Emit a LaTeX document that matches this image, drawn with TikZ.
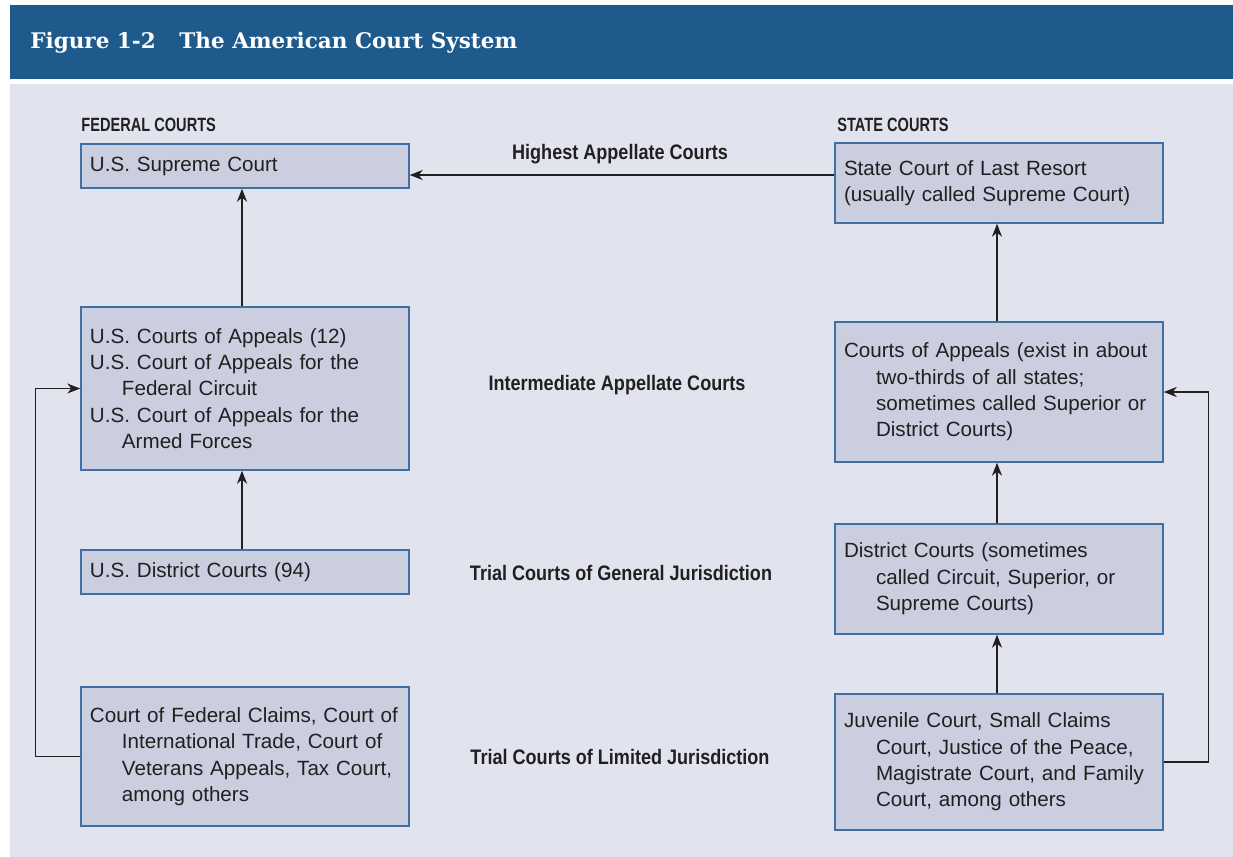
\documentclass[tikz,border=0pt]{standalone}
\usepackage{fontspec}
\setmainfont{Liberation Sans}
\newfontfamily\titlefont{DejaVu Serif}
\newfontfamily\sidefont{Liberation Sans}[FakeStretch=0.76]
\newfontfamily\levelfont{Liberation Sans}[FakeStretch=0.86]
\usetikzlibrary{arrows.meta}

\definecolor{courtBand}{HTML}{1F5A8D}
\definecolor{courtPanel}{HTML}{E1E4EE}
\definecolor{courtFill}{HTML}{CACEDF}
\definecolor{courtEdge}{HTML}{3F6FA3}
\definecolor{courtInk}{HTML}{231F20}

\newcommand{\subln}{\hspace*{16pt}}

\begin{document}
\begin{tikzpicture}[x=0.5pt,y=-0.5pt,font=\fontsize{10.3}{13.2}\selectfont,
  court/.style={draw=courtEdge,fill=courtFill,line width=0.7pt,text=courtInk,
    text width=155pt,align=left,inner xsep=4.5pt,inner ysep=0pt},
  level/.style={font=\levelfont\bfseries\fontsize{10.5}{12}\selectfont,
    text=courtInk,anchor=base,inner sep=0pt},
  side/.style={font=\sidefont\bfseries\fontsize{9.6}{11}\selectfont,
    text=courtInk,anchor=base west,inner sep=0pt},
  link/.style={-{Stealth[length=6.5pt,width=5pt,inset=2pt]},line width=0.7pt,draw=courtInk}]
  \useasboundingbox (0,0) rectangle (1233,857);
  % band and panel
  \fill[courtBand] (10,5) rectangle (1233,79);
  \fill[courtPanel] (10,84) rectangle (1233,857);
  \node[anchor=base west,inner sep=0pt,text=white,
    font=\titlefont\bfseries\fontsize{10.75}{12}\selectfont] (title) at (30,48)
    {Figure 1-2\hspace{1.1em}The American Court System};
  % column heads
  \node[side] (fedhead) at (81,131) {FEDERAL COURTS};
  \node[side] (statehead) at (837,131) {STATE COURTS};
  % federal courts
  \node[court,minimum height=22pt] (sup) at (245,166) {U.S. Supreme Court};
  \node[court,minimum height=81.5pt] (fapp) at (245,388.5) {U.S. Courts of Appeals (12)\\
    U.S. Court of Appeals for the\\ \subln Federal Circuit\\
    U.S. Court of Appeals for the\\ \subln Armed Forces};
  \node[court,minimum height=22pt] (fdist) at (245,572) {U.S. District Courts (94)};
  \node[court,minimum height=69.5pt] (fclaims) at (245,756.5) {Court of Federal Claims, Court of\\
    \subln International Trade, Court of\\ \subln Veterans Appeals, Tax Court,\\
    \subln among others};
  % state courts
  \node[court,minimum height=40pt] (slast) at (999,183) {State Court of Last Resort\\
    (usually called Supreme Court)};
  \node[court,minimum height=70pt] (sapp) at (999,392) {Courts of Appeals (exist in about\\
    \subln two-thirds of all states;\\ \subln sometimes called Superior or\\
    \subln District Courts)};
  \node[court,minimum height=55pt] (sdist) at (999,579) {District Courts (sometimes\\
    \subln called Circuit, Superior, or\\ \subln Supreme Courts)};
  \node[court,minimum height=68pt] (sjuv) at (999,762) {Juvenile Court, Small Claims\\
    \subln Court, Justice of the Peace,\\ \subln Magistrate Court, and Family\\
    \subln Court, among others};
  % levels
  \node[level] (lvhigh) at (620,159) {Highest Appellate Courts};
  \node[level] (lvmid) at (617,390) {Intermediate Appellate Courts};
  \node[level] (lvgen) at (621,580) {Trial Courts of General Jurisdiction};
  \node[level] (lvlim) at (620,764) {Trial Courts of Limited Jurisdiction};
  % connectors
  \draw[link] (slast.west |- 0,175) -- (sup.east |- 0,175);
  \draw[link] ([xshift=-1.5pt]fapp.north) -- ([xshift=-1.5pt]sup.south);
  \draw[link] ([xshift=-1.5pt]fdist.north) -- ([xshift=-1.5pt]fapp.south);
  \draw[link] (fclaims.west) -- ++(-45,0) |- (fapp.west);
  \draw[link] ([xshift=-1pt]sapp.north) -- ([xshift=-1pt]slast.south);
  \draw[link] ([xshift=-1pt]sdist.north) -- ([xshift=-1pt]sapp.south);
  \draw[link] ([xshift=-1pt]sjuv.north) -- ([xshift=-1pt]sdist.south);
  \draw[link] (sjuv.east) -- ++(45,0) |- (sapp.east);
\end{tikzpicture}
\end{document}
